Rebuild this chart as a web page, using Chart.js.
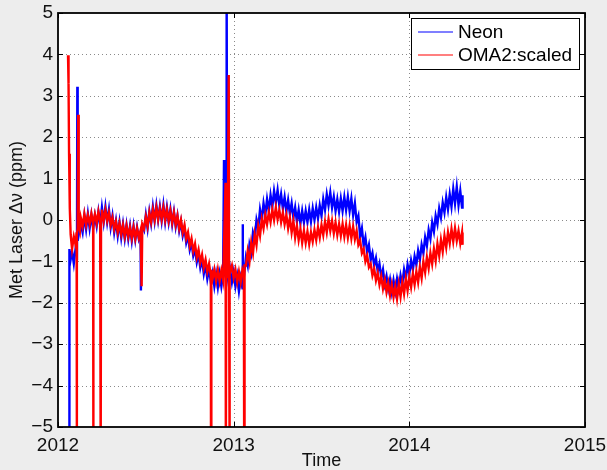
<!DOCTYPE html>
<html>
<head>
<meta charset="utf-8">
<script src="https://cdn.jsdelivr.net/npm/chart.js@4.4.1/dist/chart.umd.min.js"></script>
<style>
  html, body { margin: 0; padding: 0; background: #ededed; }
  canvas { display: block; }
</style>
</head>
<body>
<canvas id="myChart" width="607" height="470"></canvas>
<script>
// series names, tick values and the data
const seriesNames = ["Neon", "OMA2:scaled"];
const seriesColors = ["#0000ff", "#ff0000"];
const xTicks = [2012, 2013, 2014, 2015];
const yTicks = [-5, -4, -3, -2, -1, 0, 1, 2, 3, 4, 5];

const neonTimes = [
  2012.063, 2012.065, 2012.07, 2012.08, 2012.09, 2012.10, 2012.108, 2012.110, 2012.112,
  2012.12, 2012.13, 2012.14, 2012.15, 2012.16, 2012.17, 2012.18, 2012.19, 2012.20,
  2012.21, 2012.22, 2012.23, 2012.24, 2012.25, 2012.26, 2012.27, 2012.28, 2012.29, 2012.30,
  2012.31, 2012.32, 2012.33, 2012.34, 2012.35, 2012.36, 2012.37, 2012.38, 2012.39, 2012.40,
  2012.41, 2012.42, 2012.43, 2012.44, 2012.45, 2012.46, 2012.47, 2012.472, 2012.475, 2012.48,
  2012.49, 2012.50, 2012.51, 2012.52, 2012.53, 2012.54, 2012.55, 2012.56, 2012.57, 2012.58,
  2012.59, 2012.60, 2012.61, 2012.62, 2012.63, 2012.64, 2012.65, 2012.66, 2012.67, 2012.68,
  2012.69, 2012.70, 2012.71, 2012.72, 2012.73, 2012.74, 2012.75, 2012.76, 2012.77, 2012.78,
  2012.79, 2012.80, 2012.81, 2012.82, 2012.83, 2012.84, 2012.85, 2012.86, 2012.87, 2012.88,
  2012.89, 2012.90, 2012.91, 2012.92, 2012.93, 2012.94, 2012.945, 2012.950, 2012.957, 2012.960,
  2012.963, 2012.97, 2012.98, 2012.99, 2013.00, 2013.01, 2013.02, 2013.03, 2013.04, 2013.05,
  2013.051, 2013.053, 2013.06, 2013.07, 2013.08, 2013.09, 2013.10, 2013.11, 2013.12, 2013.13,
  2013.14, 2013.15, 2013.16, 2013.17, 2013.18, 2013.19, 2013.20, 2013.21, 2013.22, 2013.23,
  2013.24, 2013.25, 2013.26, 2013.27, 2013.28, 2013.29, 2013.30, 2013.31, 2013.32, 2013.33,
  2013.34, 2013.35, 2013.36, 2013.37, 2013.38, 2013.39, 2013.40, 2013.41, 2013.42, 2013.43,
  2013.44, 2013.45, 2013.46, 2013.47, 2013.48, 2013.49, 2013.50, 2013.51, 2013.52, 2013.53,
  2013.54, 2013.55, 2013.56, 2013.57, 2013.58, 2013.59, 2013.60, 2013.61, 2013.62, 2013.63,
  2013.64, 2013.65, 2013.66, 2013.67, 2013.68, 2013.69, 2013.70, 2013.71, 2013.72, 2013.73,
  2013.74, 2013.75, 2013.76, 2013.77, 2013.78, 2013.79, 2013.80, 2013.81, 2013.82, 2013.83,
  2013.84, 2013.85, 2013.86, 2013.87, 2013.88, 2013.89, 2013.90, 2013.91, 2013.92, 2013.93,
  2013.94, 2013.95, 2013.96, 2013.97, 2013.98, 2013.99, 2014.00, 2014.01, 2014.02, 2014.03,
  2014.04, 2014.05, 2014.06, 2014.07, 2014.08, 2014.09, 2014.10, 2014.11, 2014.12, 2014.13,
  2014.14, 2014.15, 2014.16, 2014.17, 2014.18, 2014.19, 2014.20, 2014.21, 2014.22, 2014.23,
  2014.24, 2014.25, 2014.26, 2014.27, 2014.28, 2014.29, 2014.30, 2014.303
];
const neonValues = [
  -6, -0.7, -1.0, -0.75, -1.05, -0.7, -0.8, 3.22, -0.5,
  -0.3, -0.1, -0.3, 0.1, -0.22, 0.15, -0.2, 0.12, -0.2,
  0.1, -0.15, 0.2, -0.12, 0.3, -0.05, 0.32, -0.05, 0.25, -0.18,
  0.1, -0.3, -0.02, -0.38, -0.05, -0.42, -0.1, -0.45, -0.12, -0.46,
  -0.15, -0.5, -0.15, -0.48, -0.18, -0.45, -0.3, -1.7, -0.2, -0.15,
  -0.25, 0.12, -0.2, 0.2, -0.08, 0.32, -0.02, 0.35, 0.0, 0.32,
  -0.02, 0.36, -0.04, 0.3, -0.05, 0.26, -0.1, 0.2, -0.16, 0.1,
  -0.26, -0.04, -0.38, -0.2, -0.55, -0.38, -0.72, -0.55, -0.86, -0.7,
  -1.02, -0.82, -1.15, -0.95, -1.3, -1.08, -1.42, -1.18, -1.5, -1.28,
  -1.6, -1.3, -1.62, -1.3, -1.6, -1.3, 1.45, -1.3, -1.4, 6,
  -1.3, -1.5, -1.2, -1.5, -1.25, -1.6, -1.35, -1.72, -1.4, -1.65,
  -0.1, -1.2, -1.3, -0.9, -1.1, -0.6, -0.8, -0.3, -0.45, 0.0,
  -0.2, 0.25, 0.0, 0.4, 0.12, 0.5, 0.22, 0.6, 0.32, 0.7,
  0.42, 0.72, 0.35, 0.62, 0.28, 0.55, 0.2, 0.48, 0.15, 0.4,
  0.05, 0.3, -0.04, 0.24, -0.08, 0.22, -0.06, 0.22, -0.05, 0.25,
  -0.04, 0.28, 0.0, 0.3, 0.04, 0.35, 0.1, 0.5, 0.25, 0.62,
  0.35, 0.66, 0.3, 0.56, 0.22, 0.5, 0.2, 0.52, 0.22, 0.55,
  0.24, 0.56, 0.22, 0.52, 0.12, 0.4, -0.05, 0.1, -0.4, -0.2,
  -0.62, -0.42, -0.78, -0.6, -0.96, -0.8, -1.1, -0.92, -1.24, -1.06,
  -1.38, -1.2, -1.55, -1.36, -1.66, -1.44, -1.74, -1.46, -1.72, -1.42,
  -1.66, -1.34, -1.55, -1.2, -1.42, -1.08, -1.3, -0.98, -1.2, -0.88,
  -1.08, -0.74, -0.96, -0.6, -0.8, -0.42, -0.62, -0.24, -0.45, -0.06,
  -0.28, 0.1, -0.1, 0.28, 0.06, 0.42, 0.18, 0.55, 0.26, 0.62,
  0.32, 0.75, 0.4, 0.8, 0.36, 0.7, 0.3, 0.6
];

const omaTimes = [
  2012.057, 2012.060, 2012.063, 2012.067, 2012.072, 2012.08, 2012.09, 2012.10, 2012.106, 2012.107,
  2012.108, 2012.112, 2012.115, 2012.118, 2012.125, 2012.13, 2012.14, 2012.15, 2012.16, 2012.17,
  2012.18, 2012.19, 2012.20, 2012.201, 2012.202, 2012.21, 2012.22, 2012.23, 2012.24, 2012.243,
  2012.245, 2012.25, 2012.26, 2012.27, 2012.28, 2012.29, 2012.30, 2012.31, 2012.32, 2012.33,
  2012.34, 2012.35, 2012.36, 2012.37, 2012.38, 2012.39, 2012.40, 2012.41, 2012.42, 2012.43,
  2012.44, 2012.45, 2012.46, 2012.47, 2012.476, 2012.48, 2012.49, 2012.50, 2012.51, 2012.52,
  2012.53, 2012.54, 2012.55, 2012.56, 2012.57, 2012.58, 2012.59, 2012.60, 2012.61, 2012.62,
  2012.63, 2012.64, 2012.65, 2012.66, 2012.67, 2012.68, 2012.69, 2012.70, 2012.71, 2012.72,
  2012.73, 2012.74, 2012.75, 2012.76, 2012.77, 2012.78, 2012.79, 2012.80, 2012.81, 2012.82,
  2012.83, 2012.84, 2012.85, 2012.86, 2012.87, 2012.871, 2012.873, 2012.88, 2012.89, 2012.90,
  2012.91, 2012.92, 2012.93, 2012.94, 2012.954, 2012.955, 2012.956, 2012.958, 2012.965, 2012.972,
  2012.974, 2012.976, 2012.978, 2012.99, 2013.00, 2013.01, 2013.02, 2013.03, 2013.04, 2013.05,
  2013.058, 2013.060, 2013.062, 2013.07, 2013.08, 2013.09, 2013.10, 2013.11, 2013.12, 2013.13,
  2013.14, 2013.15, 2013.16, 2013.17, 2013.18, 2013.19, 2013.20, 2013.21, 2013.22, 2013.23,
  2013.24, 2013.25, 2013.26, 2013.27, 2013.28, 2013.29, 2013.30, 2013.31, 2013.32, 2013.33,
  2013.34, 2013.35, 2013.36, 2013.37, 2013.38, 2013.39, 2013.40, 2013.41, 2013.42, 2013.43,
  2013.44, 2013.45, 2013.46, 2013.47, 2013.48, 2013.49, 2013.50, 2013.51, 2013.52, 2013.53,
  2013.54, 2013.55, 2013.56, 2013.57, 2013.58, 2013.59, 2013.60, 2013.61, 2013.62, 2013.63,
  2013.64, 2013.65, 2013.66, 2013.67, 2013.68, 2013.69, 2013.70, 2013.71, 2013.72, 2013.73,
  2013.74, 2013.75, 2013.76, 2013.77, 2013.78, 2013.79, 2013.80, 2013.81, 2013.82, 2013.83,
  2013.84, 2013.85, 2013.86, 2013.87, 2013.88, 2013.89, 2013.90, 2013.91, 2013.92, 2013.93,
  2013.94, 2013.95, 2013.96, 2013.97, 2013.98, 2013.99, 2014.00, 2014.01, 2014.02, 2014.03,
  2014.04, 2014.05, 2014.06, 2014.07, 2014.08, 2014.09, 2014.10, 2014.11, 2014.12, 2014.13,
  2014.14, 2014.15, 2014.16, 2014.17, 2014.18, 2014.19, 2014.20, 2014.21, 2014.22, 2014.23,
  2014.24, 2014.25, 2014.26, 2014.27, 2014.28, 2014.29, 2014.30, 2014.303
];
const omaValues = [
  3.98, 3.3, 1.6, 0.3, -0.35, -0.7, -0.4, -0.6, -0.3, -6,
  -0.35, -0.2, 2.54, -0.1, -0.25, 0.05, -0.15, 0.15, -0.12, 0.12,
  -0.1, 0.15, -0.1, -6, -0.05, 0.14, -0.08, 0.2, -0.05, -6,
  0.0, 0.25, -0.02, 0.24, -0.02, 0.18, -0.12, 0.06, -0.22, -0.04,
  -0.3, -0.08, -0.35, -0.12, -0.4, -0.14, -0.4, -0.18, -0.44, -0.18,
  -0.45, -0.2, -0.42, -0.25, -1.6, -0.1, -0.2, 0.08, -0.15, 0.18,
  -0.05, 0.25, 0.0, 0.3, 0.02, 0.28, 0.02, 0.3, 0.0, 0.26,
  -0.02, 0.22, -0.06, 0.18, -0.12, 0.1, -0.2, 0.0, -0.3, -0.12,
  -0.45, -0.3, -0.62, -0.45, -0.75, -0.58, -0.9, -0.72, -1.02, -0.84,
  -1.15, -0.96, -1.25, -1.06, -1.35, -6, -1.2, -1.42, -1.2, -1.48,
  -1.2, -1.48, -1.22, -1.45, 0.9, -1.3, -6, -1.2, -1.4, 3.5,
  -1.1, -6, -1.3, -1.1, -1.4, -1.2, -1.5, -1.25, -1.5, -1.2,
  -1.3, -6, -1.1, -1.1, -0.75, -1.0, -0.55, -0.8, -0.35, -0.6,
  -0.15, -0.38, 0.02, -0.2, 0.12, -0.1, 0.18, -0.05, 0.25, 0.0,
  0.3, 0.02, 0.24, -0.05, 0.18, -0.1, 0.12, -0.2, 0.05, -0.3,
  -0.02, -0.42, -0.14, -0.48, -0.22, -0.55, -0.26, -0.55, -0.28, -0.58,
  -0.3, -0.52, -0.24, -0.48, -0.18, -0.42, -0.12, -0.36, -0.04, -0.3,
  0.02, -0.26, -0.02, -0.32, -0.06, -0.36, -0.1, -0.38, -0.1, -0.4,
  -0.12, -0.42, -0.14, -0.44, -0.16, -0.46, -0.26, -0.6, -0.5, -0.8,
  -0.7, -1.0, -0.86, -1.14, -1.06, -1.34, -1.18, -1.46, -1.28, -1.56,
  -1.36, -1.66, -1.45, -1.74, -1.52, -1.82, -1.56, -1.86, -1.6, -1.9,
  -1.55, -1.85, -1.5, -1.78, -1.42, -1.7, -1.36, -1.62, -1.3, -1.56,
  -1.24, -1.5, -1.14, -1.4, -1.0, -1.26, -0.9, -1.16, -0.8, -1.06,
  -0.7, -0.98, -0.58, -0.86, -0.48, -0.76, -0.38, -0.66, -0.3, -0.56,
  -0.22, -0.52, -0.2, -0.5, -0.26, -0.56, -0.3, -0.6
];

const toPoints = (times, values) => times.map((t, i) => ({ x: t, y: values[i] }));
const fontFamily = "'Liberation Sans', Arial, Helvetica, sans-serif";
const minusLabel = (v) => (v < 0 ? "\u2212" + Math.abs(v) : String(v));

// white axes box, dotted grid, inward ticks, black frame and MATLAB-style legend
const matlabAxes = {
  id: "matlabAxes",
  beforeDatasetsDraw(chart) {
    const { ctx, chartArea: a, scales } = chart;
    ctx.save();
    ctx.fillStyle = "#ffffff";
    ctx.fillRect(a.left, a.top, a.right - a.left, a.bottom - a.top);
    ctx.strokeStyle = "#8a8a8a";
    ctx.lineWidth = 1;
    ctx.setLineDash([1, 3]);
    ctx.beginPath();
    xTicks.forEach((t) => {
      const px = Math.round(scales.x.getPixelForValue(t)) + 0.5;
      if (px > a.left + 2 && px < a.right - 2) {
        ctx.moveTo(px, a.top);
        ctx.lineTo(px, a.bottom);
      }
    });
    yTicks.forEach((v) => {
      const py = Math.round(scales.y.getPixelForValue(v)) + 0.5;
      if (py > a.top + 2 && py < a.bottom - 2) {
        ctx.moveTo(a.left, py);
        ctx.lineTo(a.right, py);
      }
    });
    ctx.stroke();
    ctx.restore();
  },
  afterDraw(chart) {
    const { ctx, chartArea: a, scales } = chart;
    ctx.save();
    ctx.strokeStyle = "#000000";
    ctx.lineWidth = 1;
    ctx.beginPath();
    xTicks.forEach((t) => {
      const px = Math.round(scales.x.getPixelForValue(t)) + 0.5;
      ctx.moveTo(px, a.bottom);
      ctx.lineTo(px, a.bottom - 5);
      ctx.moveTo(px, a.top);
      ctx.lineTo(px, a.top + 5);
    });
    yTicks.forEach((v) => {
      const py = Math.round(scales.y.getPixelForValue(v)) + 0.5;
      ctx.moveTo(a.left, py);
      ctx.lineTo(a.left + 5, py);
      ctx.moveTo(a.right, py);
      ctx.lineTo(a.right - 5, py);
    });
    ctx.stroke();
    ctx.lineWidth = 1.8;
    ctx.strokeRect(a.left, a.top, a.right - a.left, a.bottom - a.top);

    // legend box
    const boxW = 168, boxH = 51;
    const bx = a.right - boxW - 6, by = a.top + 5;
    ctx.fillStyle = "#ffffff";
    ctx.fillRect(bx, by, boxW, boxH);
    ctx.strokeStyle = "#000000";
    ctx.lineWidth = 1;
    ctx.strokeRect(bx + 0.5, by + 0.5, boxW, boxH);
    ctx.font = "19px " + fontFamily;
    ctx.textBaseline = "middle";
    ctx.textAlign = "left";
    seriesNames.forEach((name, i) => {
      const ly = by + 14 + i * 23;
      ctx.beginPath();
      ctx.strokeStyle = seriesColors[i];
      ctx.lineWidth = 1.2;
      ctx.moveTo(bx + 7, ly);
      ctx.lineTo(bx + 42, ly);
      ctx.stroke();
      ctx.fillStyle = "#000000";
      ctx.fillText(name, bx + 47, ly + 1);
    });
    ctx.restore();
  }
};

new Chart(document.getElementById("myChart"), {
  type: "line",
  data: {
    datasets: [
      {
        label: seriesNames[0],
        data: toPoints(neonTimes, neonValues),
        borderColor: seriesColors[0],
        borderWidth: 2.4,
        order: 2
      },
      {
        label: seriesNames[1],
        data: toPoints(omaTimes, omaValues),
        borderColor: seriesColors[1],
        borderWidth: 2.4,
        order: 1
      }
    ]
  },
  options: {
    responsive: false,
    animation: false,
    events: [],
    elements: { point: { radius: 0 }, line: { tension: 0 } },
    layout: { padding: { left: 0, right: 22, top: 13, bottom: 0 } },
    plugins: { legend: { display: false }, tooltip: { enabled: false } },
    scales: {
      x: {
        type: "linear",
        min: xTicks[0],
        max: xTicks[xTicks.length - 1],
        afterBuildTicks: (s) => { s.ticks = xTicks.map((v) => ({ value: v })); },
        afterFit: (s) => { s.height = 43; s.paddingLeft = 0; s.paddingRight = 0; },
        grid: { display: false, drawTicks: false },
        border: { display: false },
        ticks: {
          maxRotation: 0,
          padding: 7,
          color: "#111",
          font: { family: fontFamily, size: 19 },
          callback: (v) => String(v)
        },
        title: {
          display: true,
          text: "Time",
          color: "#111",
          font: { family: fontFamily, size: 18 },
          padding: { top: 0, bottom: -2 }
        }
      },
      y: {
        min: yTicks[0],
        max: yTicks[yTicks.length - 1],
        afterBuildTicks: (s) => { s.ticks = yTicks.map((v) => ({ value: v })); },
        afterFit: (s) => { s.width = 58; s.paddingTop = 0; s.paddingBottom = 0; },
        grid: { display: false, drawTicks: false },
        border: { display: false },
        ticks: {
          padding: 5,
          color: "#111",
          font: { family: fontFamily, size: 19 },
          callback: (v) => minusLabel(v)
        },
        title: {
          display: true,
          text: "Met Laser \u0394\u03bd (ppm)",
          color: "#111",
          font: { family: fontFamily, size: 18 },
          padding: { top: 6, bottom: 0 }
        }
      }
    }
  },
  plugins: [matlabAxes]
});
</script>
</body>
</html>
